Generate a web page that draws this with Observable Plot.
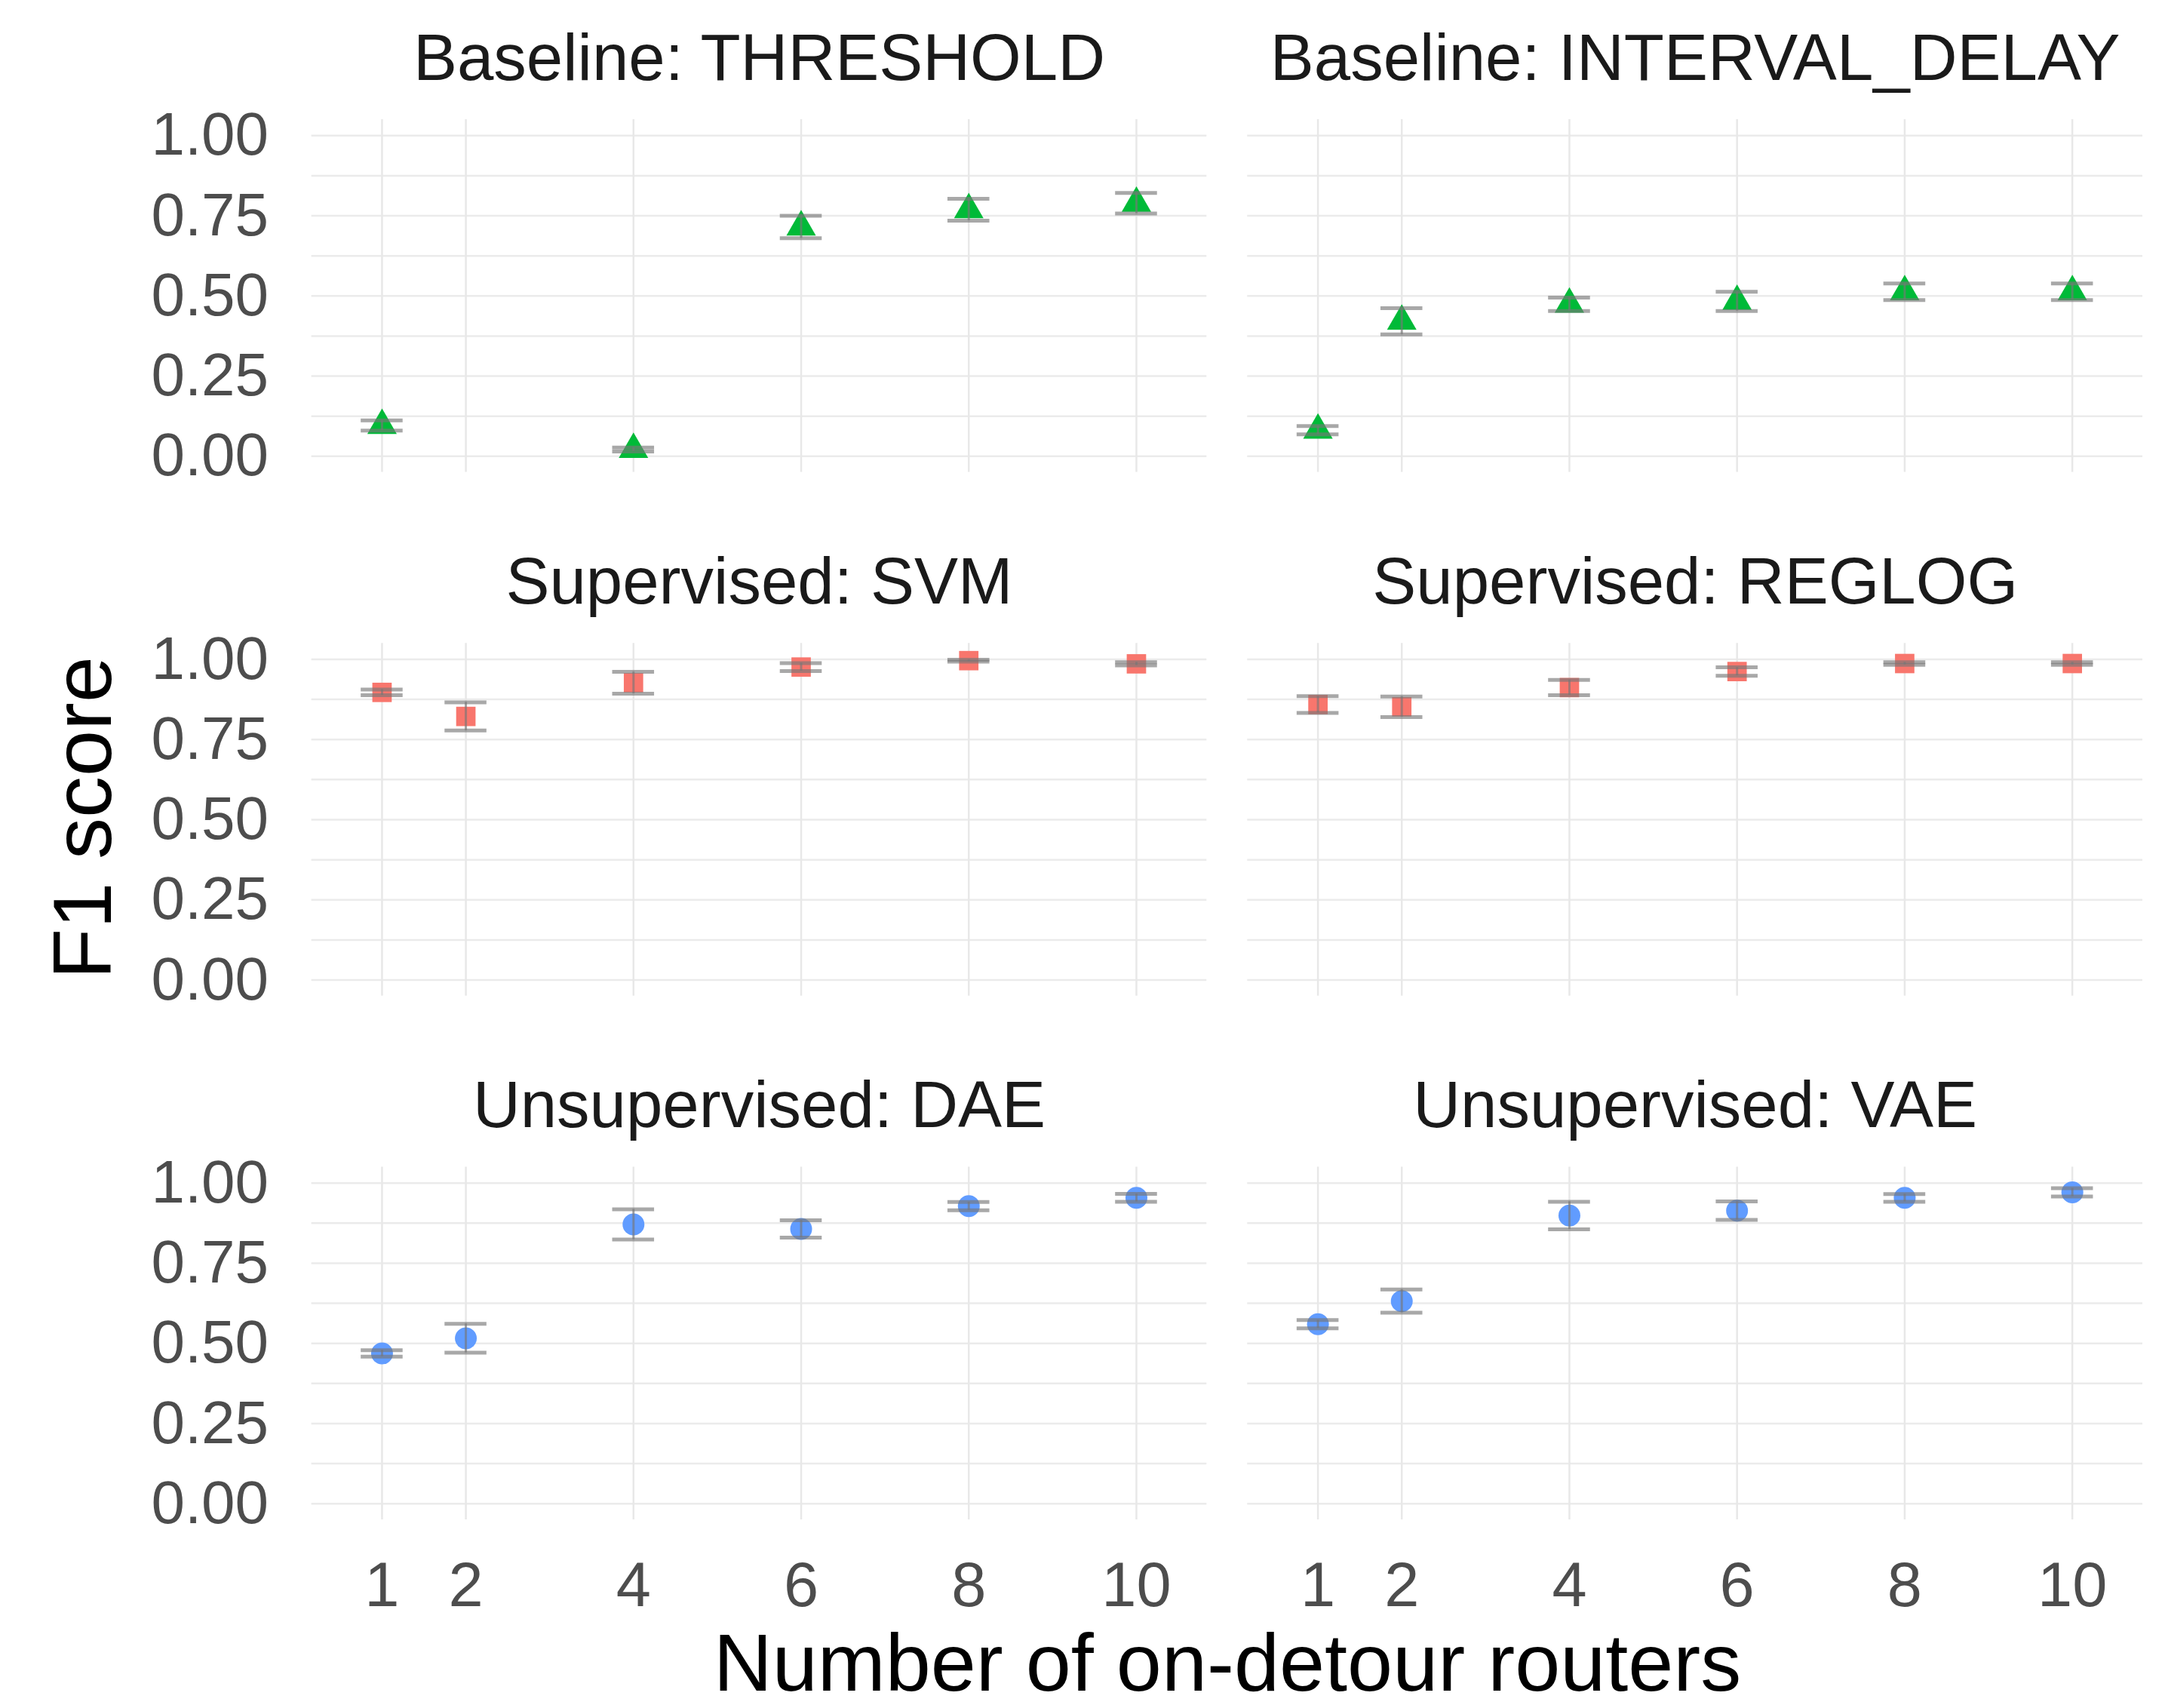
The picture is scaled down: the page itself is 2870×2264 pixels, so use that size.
<!DOCTYPE html>
<html>
<head>
<meta charset="utf-8">
<script src="https://cdn.jsdelivr.net/npm/d3@7"></script>
<script src="https://cdn.jsdelivr.net/npm/@observablehq/plot@0.6"></script>
<style>
  html, body { margin: 0; padding: 0; background: #ffffff; }
  #chart { width: 2870px; height: 2264px; }
</style>
</head>
<body>
<div id="chart"></div>
<script>
// ---------- data ----------
const routers = [1, 2, 4, 6, 8, 10];
const panelTitles = [
  "Baseline: THRESHOLD", "Baseline: INTERVAL_DELAY",
  "Supervised: SVM", "Supervised: REGLOG",
  "Unsupervised: DAE", "Unsupervised: VAE"
];
const panelFamily = ["Baseline", "Baseline", "Supervised", "Supervised", "Unsupervised", "Unsupervised"];

const thresholdMean     = [0.096, null, 0.021, 0.715, 0.769, 0.789];
const thresholdErr      = [0.016, null, 0.006, 0.035, 0.034, 0.032];
const intervalDelayMean = [0.081, 0.421, 0.474, 0.483, 0.513, 0.513];
const intervalDelayErr  = [0.013, 0.041, 0.021, 0.030, 0.026, 0.026];
const svmMean           = [0.897, 0.822, 0.927, 0.976, 0.996, 0.986];
const svmErr            = [0.009, 0.044, 0.034, 0.0125, 0.003, 0.005];
const reglogMean        = [0.859, 0.852, 0.912, 0.962, 0.987, 0.987];
const reglogErr         = [0.026, 0.032, 0.024, 0.013, 0.004, 0.004];
const daeMean           = [0.469, 0.516, 0.871, 0.857, 0.928, 0.954];
const daeErr            = [0.010, 0.045, 0.047, 0.027, 0.013, 0.0125];
const vaeMean           = [0.560, 0.632, 0.899, 0.914, 0.954, 0.971];
const vaeErr            = [0.013, 0.036, 0.043, 0.029, 0.012, 0.013];

const families       = ["Baseline", "Supervised", "Unsupervised"];
const familyColors   = ["#00BA38", "#F8766D", "#619CFF"];
const familySymbols  = ["triangle", "square", "circle"];

const yTicks = [0, 0.25, 0.5, 0.75, 1];
const yGrid  = [0, 0.125, 0.25, 0.375, 0.5, 0.625, 0.75, 0.875, 1];
const xTitle = "Number of on-detour routers";
const yTitle = "F1 score";

// ---------- table built from the arrays ----------
const means = [thresholdMean, intervalDelayMean, svmMean, reglogMean, daeMean, vaeMean];
const errs  = [thresholdErr, intervalDelayErr, svmErr, reglogErr, daeErr, vaeErr];
const panels = panelTitles.map((title, i) => ({title, col: i % 2, row: Math.floor(i / 2)}));
const rows = [];
panelTitles.forEach((title, i) => {
  routers.forEach((x, j) => {
    if (means[i][j] == null) return;
    rows.push({
      title, family: panelFamily[i], col: i % 2, row: Math.floor(i / 2),
      x, f1: means[i][j], lo: means[i][j] - errs[i][j], hi: means[i][j] + errs[i][j]
    });
  });
});

const font = "'Liberation Sans', Arimo, Arial, Helvetica, sans-serif";
const barColor = "#777777";

const svg = Plot.plot({
  width: 2870,
  height: 2264,
  marginLeft: 412.6,
  marginRight: 30,
  marginTop: 158,
  marginBottom: 250,
  style: {fontFamily: font, background: "#ffffff"},
  fx: {domain: [0, 1], paddingInner: 0.0435, paddingOuter: 0, axis: null, round: false},
  fy: {domain: [0, 1, 2], paddingInner: 0.3266, paddingOuter: 0, axis: null, round: false},
  x: {domain: [0.16, 10.84]},
  y: {domain: [-0.05, 1.05]},
  color: {domain: families, range: familyColors},
  symbol: {domain: families, range: familySymbols},
  marks: [
    Plot.gridY(yGrid, {stroke: "#EBEBEB", strokeOpacity: 1, strokeWidth: 2.5}),
    Plot.gridX(routers, {stroke: "#E8E8E8", strokeOpacity: 1, strokeWidth: 2.5}),
    Plot.dot(rows, {x: "x", y: "f1", fx: "col", fy: "row", fill: "family", symbol: "family", r: 14.5}),
    Plot.ruleX(rows, {x: "x", y1: "lo", y2: "hi", fx: "col", fy: "row",
      stroke: barColor, strokeOpacity: 0.64, strokeWidth: 3}),
    Plot.ruleY(rows, {y: "lo", x1: d => d.x - 0.25, x2: d => d.x + 0.25, fx: "col", fy: "row",
      stroke: barColor, strokeOpacity: 0.64, strokeWidth: 5}),
    Plot.ruleY(rows, {y: "hi", x1: d => d.x - 0.25, x2: d => d.x + 0.25, fx: "col", fy: "row",
      stroke: barColor, strokeOpacity: 0.64, strokeWidth: 5}),
    Plot.text(panels, {fx: "col", fy: "row", text: "title", frameAnchor: "top",
      lineAnchor: "bottom", dy: -53, fontSize: 87, fill: "#1A1A1A"}),
    Plot.axisY({ticks: yTicks, tickFormat: d3.format(".2f"), tickSize: 0, tickPadding: 57,
      fontSize: 80, label: null, color: "#4D4D4D"}),
    Plot.axisX({ticks: routers, tickFormat: d => String(d), tickSize: 0, tickPadding: 56,
      fontSize: 83, label: null, color: "#4D4D4D"})
  ]
});

document.getElementById("chart").appendChild(svg);

// axis titles, once for the whole figure
const s = d3.select(svg);
s.append("text")
  .attr("x", 1627).attr("y", 2241)
  .attr("text-anchor", "middle")
  .attr("font-family", font).attr("font-size", 108).attr("fill", "#000000")
  .text(xTitle);
s.append("text")
  .attr("transform", "translate(147,1084) rotate(-90)")
  .attr("text-anchor", "middle")
  .attr("font-family", font).attr("font-size", 110).attr("fill", "#000000")
  .text(yTitle);
</script>
</body>
</html>
